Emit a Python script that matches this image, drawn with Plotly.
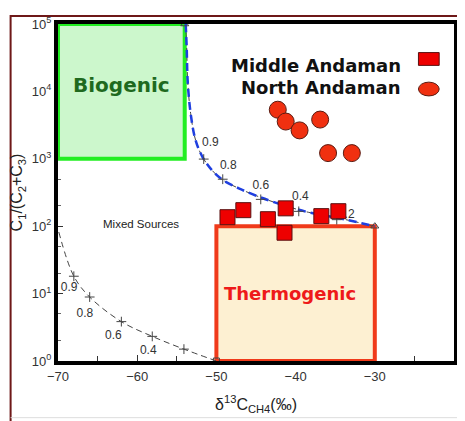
import math
import plotly.graph_objects as go

# ---------------- data ----------------
middle_x = [-48.6, -46.6, -43.5, -41.25, -36.75, -34.6, -41.4]
middle_y = [136, 173, 127, 184, 141, 167, 80]

north_x = [-42.25, -41.25, -39.5, -36.9, -35.9, -32.9]
north_y = [5350, 3570, 2640, 3820, 1215, 1215]

# upper mixing curve
upper_x = [-53.875, -53.75, -53.625, -53.25, -52.625, -51.75, -50.6, -49.25,
           -47.1, -44.4, -41.5, -38.4, -34.6, -30.0]
upper_y = [100000, 44600, 14200, 4680, 1884, 1062, 686, 490,
           361, 267, 204, 161, 132, 100]
upper_tick_x = [-51.6, -49.2, -44.4, -39.6, -34.8]
upper_tick_y = [990, 498, 250, 166, 125]
upper_lab_x = [-50.75, -48.5, -44.4, -39.4, -33.6]
upper_lab_y = [1700, 785, 400, 267, 146]
upper_lab = ["0.9", "0.8", "0.6", "0.4", "0.2"]
upper_end_x = [-54, -30]
upper_end_y = [100000, 100]

# lower mixing curve
lower_x = [-69.9, -68.0, -66.0, -62.0, -58.1, -54.1, -50.0]
lower_y = [82, 18.1, 8.9, 3.84, 2.32, 1.50, 1.0]
lower_tick_x = [-68.0, -66.0, -62.0, -58.1, -54.1]
lower_tick_y = [18.1, 8.9, 3.84, 2.32, 1.50]
lower_lab_x = [-68.6, -66.6, -63.0, -58.6]
lower_lab_y = [12.1, 5.03, 2.32, 1.40]
lower_lab = ["0.9", "0.8", "0.6", "0.4"]

biogenic_x = [-70, -54]
biogenic_y = [1000, 100000]
thermo_x = [-50, -30]
thermo_y = [1, 100]

x_ticks = [-70, -60, -50, -40, -30, -20]
y_ticks = [1, 10, 100, 1000, 10000, 100000]
y_tick_text = ["10<sup>0</sup>", "10<sup>1</sup>", "10<sup>2</sup>",
               "10<sup>3</sup>", "10<sup>4</sup>", "10<sup>5</sup>"]

FONT = "Liberation Sans, Arial, sans-serif"
BOLD = "DejaVu Sans, sans-serif"

fig = go.Figure()

def box(xr, yr, fill, line):
    fig.add_trace(go.Scatter(
        x=[xr[0], xr[1], xr[1], xr[0], xr[0]],
        y=[yr[0], yr[0], yr[1], yr[1], yr[0]],
        mode="lines", fill="toself", fillcolor=fill,
        line=dict(color=line, width=4), hoverinfo="skip", showlegend=False))

box(biogenic_x, biogenic_y, "#ccf7cc", "#22ee22")
box(thermo_x, thermo_y, "#fdf0d2", "#f03a1a")

# lower curve
fig.add_trace(go.Scatter(x=lower_x, y=lower_y, mode="lines", line_shape="spline",
                         line=dict(color="#444", width=1, dash="6px,4px"), showlegend=False))
fig.add_trace(go.Scatter(x=lower_tick_x, y=lower_tick_y, mode="markers",
                         marker=dict(symbol="cross-thin", size=7, line=dict(color="#444", width=1)),
                         showlegend=False))
fig.add_trace(go.Scatter(x=[lower_x[-1]], y=[lower_y[-1]], mode="markers",
                         marker=dict(symbol="square-open", size=6, color="#444", line=dict(width=1)),
                         showlegend=False))
fig.add_trace(go.Scatter(x=lower_lab_x, y=lower_lab_y, mode="text", text=lower_lab,
                         textfont=dict(family=FONT, size=12, color="#333"), showlegend=False))

# upper curve
fig.add_trace(go.Scatter(x=upper_x, y=upper_y, mode="lines", line_shape="spline",
                         line=dict(color="#444", width=1, dash="5px,3px"), showlegend=False))
fig.add_trace(go.Scatter(x=upper_x, y=upper_y, mode="lines", line_shape="spline",
                         line=dict(color="#1f3fe0", width=2.5, dash="8px,5px"), showlegend=False))
fig.add_trace(go.Scatter(x=upper_tick_x, y=upper_tick_y, mode="markers",
                         marker=dict(symbol="cross-thin", size=7, line=dict(color="#444", width=1)),
                         showlegend=False))
fig.add_trace(go.Scatter(x=upper_end_x, y=upper_end_y, mode="markers",
                         marker=dict(symbol="triangle-up-open", size=7, color="#444", line=dict(width=1)),
                         showlegend=False))
fig.add_trace(go.Scatter(x=upper_lab_x, y=upper_lab_y, mode="text", text=upper_lab,
                         textfont=dict(family=FONT, size=12, color="#333"), showlegend=False))

# data
fig.add_trace(go.Scatter(x=north_x, y=north_y, mode="markers", name="North Andaman",
                         marker=dict(symbol="circle", size=17, color="#f03010",
                                     line=dict(color="#5a1a10", width=1)), showlegend=False))
fig.add_trace(go.Scatter(x=middle_x, y=middle_y, mode="markers", name="Middle Andaman",
                         marker=dict(symbol="square", size=15, color="#ee0000",
                                     line=dict(color="#5a1010", width=1)), showlegend=False))

# page has an 8px body margin: work in reference pixel coords, shifted
OFF = 8
W, H = 465 - OFF, 421 - OFF
L, T = 57 - OFF, 19 - OFF
R = W - (458 - OFF)
B = H - (361 - OFF)
pw, ph = W - L - R, H - T - B
def px(x): return (x - OFF - L) / pw
def py(y): return (H - B - (y - OFF)) / ph

annotations = [
    dict(x=-59.5, y=math.log10(108), xref="x", yref="y", text="Mixed Sources", showarrow=False,
         font=dict(family=FONT, size=11.5, color="#222")),
    dict(x=-62, y=math.log10(12300), xref="x", yref="y", text="<b>Biogenic</b>", showarrow=False,
         font=dict(family=BOLD, size=20, color="#1e6a1e")),
    dict(x=-40.75, y=math.log10(9.9), xref="x", yref="y", text="<b>Thermogenic</b>", showarrow=False,
         font=dict(family=BOLD, size=18, color="#ee1a1a")),
    dict(x=px(406), y=py(61), xref="paper", yref="paper", xanchor="right", yanchor="middle",
         text="<b>Middle Andaman</b>",
         showarrow=False, font=dict(family=BOLD, size=18, color="#111")),
    dict(x=px(406), y=py(83), xref="paper", yref="paper", xanchor="right", yanchor="middle",
         text="<b>North Andaman</b>",
         showarrow=False, font=dict(family=BOLD, size=18, color="#111")),
]

shapes = [
    dict(type="rect", xref="paper", yref="paper", x0=px(422), x1=px(443), y0=py(61), y1=py(48),
         fillcolor="#ee0000", line=dict(color="#5a1010", width=1)),
    dict(type="circle", xref="paper", yref="paper", x0=px(422), x1=px(443), y0=py(92), y1=py(78),
         fillcolor="#f03010", line=dict(color="#5a1a10", width=1)),
    dict(type="path", xref="paper", yref="paper",
         path=f"M {px(9)} {py(425)} L {px(9)} {py(11)} L {px(470)} {py(11)}",
         line=dict(color="#6e1818", width=2)),
    dict(type="line", xref="paper", yref="paper", x0=px(9), x1=px(470), y0=py(418.5), y1=py(418.5),
         line=dict(color="#dddddd", width=1)),
]

fig.update_layout(
    width=W, height=H, margin=dict(l=L, r=R, t=T, b=B),
    paper_bgcolor="white", plot_bgcolor="white",
    annotations=annotations, shapes=shapes, showlegend=False,
    font=dict(family=FONT),
)
fig.update_xaxes(range=[-70, -20], tickvals=x_ticks, ticks="inside", ticklen=6, tickwidth=1,
                 tickcolor="#333", showline=True, linecolor="black", linewidth=4, mirror=True,
                 showgrid=False, zeroline=False, layer="below traces",
                 minor=dict(dtick=5, ticks="inside", ticklen=5, tickcolor="#333"),
                 tickfont=dict(family=FONT, size=13, color="#333"),
                 title=dict(text="δ<sup>13</sup>C<sub>CH4</sub>(‰)", font=dict(family=FONT, size=16, color="#222"),
                            standoff=17))
fig.update_yaxes(type="log", range=[0, 5], tickvals=y_ticks, ticktext=y_tick_text, ticks="inside",
                 ticklen=5, tickcolor="#333", showline=True, linecolor="black", linewidth=4, mirror=True,
                 showgrid=False, zeroline=False, layer="below traces",
                 minor=dict(ticks="inside", ticklen=3, tickcolor="#666"),
                 tickfont=dict(family=FONT, size=13, color="#333"),
                 title=dict(text="C<sub>1</sub>/(C<sub>2</sub>+C<sub>3</sub>)",
                            font=dict(family=FONT, size=16, color="#222"), standoff=6))

fig.write_html("out.html")
